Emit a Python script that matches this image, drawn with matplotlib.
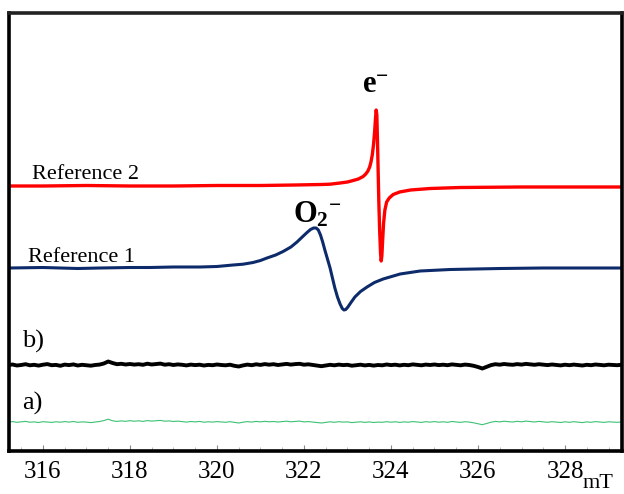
import numpy as np
import matplotlib
matplotlib.use("Agg")
import matplotlib.pyplot as plt
from matplotlib.ticker import MultipleLocator

plt.rcParams['font.family'] = ['Liberation Serif', 'DejaVu Serif']
plt.rcParams['mathtext.fontset'] = 'custom'
plt.rcParams['mathtext.rm'] = 'Liberation Serif'
plt.rcParams['mathtext.bf'] = 'Liberation Serif:bold'
plt.rcParams['mathtext.it'] = 'Liberation Serif:italic'

# ---- data (field in mT, signal in arbitrary units) ----
ref2_field = [315.22, 316.0, 317.0, 318.0, 319.0, 320.0, 321.0, 321.8, 322.4, 322.6,
              322.83, 323.0, 323.13, 323.25, 323.36, 323.42, 323.47, 323.51, 323.54,
              323.57, 323.60, 323.625, 323.645, 323.66, 323.675, 323.69, 323.705,
              323.72, 323.74, 323.76, 323.775, 323.79, 323.81, 323.83, 323.86, 323.90,
              323.96, 324.05, 324.2, 324.45, 324.9, 325.59, 326.97, 328.0, 329.31]
ref2_signal = [265, 265, 265.5, 265, 265, 265.5, 265.5, 266, 266.5, 266.8,
               268, 269, 270.5, 272, 274.5, 277, 280, 284, 289,
               296, 307, 320, 333, 341, 336, 310, 280,
               250, 220, 198, 190, 195, 212, 228, 241, 249,
               253, 256.5, 259, 261, 262.5, 263.5, 264, 264, 264]

ref1_field = [315.22, 316.0, 316.8, 317.31, 318.0, 318.46, 319.0, 319.61, 320.0, 320.37,
              320.6, 320.83, 321.0, 321.15, 321.35, 321.52, 321.7, 321.84, 321.96,
              322.07, 322.15, 322.22, 322.28, 322.33, 322.38, 322.43, 322.48, 322.54,
              322.60, 322.66, 322.71, 322.77, 322.83, 322.88, 322.92, 322.96, 323.01,
              323.08, 323.17, 323.3, 323.45, 323.62, 323.82, 324.21, 324.67, 325.36,
              326.51, 327.5, 328.5, 329.31]
ref1_signal = [183, 183.5, 182.5, 183, 183.5, 183.5, 184, 184, 184.5, 186,
               186.8, 188.5, 190.5, 193, 196, 199.5, 204, 209, 214,
               218.5, 221.5, 223, 223, 221, 216, 209, 201, 192,
               183, 172, 163, 154, 147, 142.5, 141, 141.5, 144,
               148.5, 154, 159.5, 164, 168.5, 172, 177, 180, 181.5,
               182.5, 183, 183, 183]

noise_field = np.linspace(315.2, 329.3, 142)
b_signal = [86, 86.5, 85.5, 86, 86.8, 85.7, 86.2, 85.4, 86.3, 86.9,
            85.8, 86.1, 85.2, 86.4, 85.9, 86.6, 85.5, 86.2, 85.8, 85.3,
            86.0, 86.4, 87.5, 89.5, 88.0, 86.8, 87.2, 86.5, 87.0, 86.4,
            86.8, 86.2, 87.3, 86.5, 86.9, 87.4, 86.3, 86.8, 86.0, 86.6,
            86.2, 85.6, 86.4, 85.9, 86.3, 85.5, 86.1, 85.8, 86.5, 86.0,
            85.7, 86.3, 85.2, 84.5, 85.6, 86.4, 85.8, 86.7, 86.1, 86.9,
            86.3, 86.8, 86.0, 86.5, 87.1, 86.4, 86.9, 87.2, 86.3, 86.7,
            86.1, 85.6, 84.8, 85.5, 86.2, 85.7, 86.4, 85.9, 86.2, 85.3,
            85.8, 86.3, 85.6, 86.1, 85.4, 86.0, 85.7, 86.5, 85.9, 86.3,
            85.6, 86.2, 85.8, 86.6, 86.1, 85.7, 86.4, 86.0, 86.5, 85.9,
            86.3, 85.8, 86.6, 86.1, 85.7, 86.4, 86.0, 85.2, 84.0, 82.5,
            84.2, 85.9, 86.8, 86.3, 87.0, 86.5, 86.2, 86.9, 86.4, 87.1,
            86.6, 86.2, 86.8, 86.3, 85.9, 86.5, 86.1, 85.6, 86.3, 85.8,
            86.4, 86.0, 85.5, 86.2, 85.8, 86.5, 86.1, 85.7, 86.3, 86.0,
            85.8, 86.2]
a_signal = [29.0, 29.4, 28.7, 29.2, 29.6, 28.8, 29.1, 28.5, 29.3, 29.0,
            28.6, 29.2, 28.8, 29.4, 28.9, 29.5, 28.7, 29.1, 28.9, 28.4,
            29.0, 29.5, 30.4, 31.8, 30.2, 29.6, 30.1, 29.7, 30.3, 29.8,
            30.2, 29.6, 30.4, 29.9, 30.3, 30.6, 29.8, 30.1, 29.5, 29.9,
            29.4, 28.9, 29.5, 29.1, 29.6, 28.8, 29.2, 28.9, 29.4, 29.0,
            28.7, 29.3, 28.6, 28.0, 28.8, 29.4, 28.9, 29.6, 29.1, 29.7,
            29.2, 29.5, 29.0, 29.4, 29.8, 29.2, 29.6, 29.9, 29.1, 29.4,
            28.9, 28.5, 28.0, 28.6, 29.2, 28.7, 29.3, 28.9, 29.1, 28.4,
            28.8, 29.2, 28.6, 29.1, 28.5, 28.9, 28.7, 29.3, 28.8, 29.2,
            28.6, 29.1, 28.8, 29.4, 29.0, 28.6, 29.3, 28.9, 29.4, 28.8,
            29.2, 28.7, 29.5, 29.0, 28.6, 29.3, 28.9, 28.2, 27.2, 26.3,
            27.5, 28.8, 29.6, 29.1, 29.8, 29.3, 29.0, 29.7, 29.2, 29.9,
            29.4, 29.0, 29.6, 29.1, 28.7, 29.3, 28.9, 28.5, 29.2, 28.7,
            29.3, 28.9, 28.4, 29.1, 28.7, 29.4, 29.0, 28.6, 29.2, 28.9,
            28.7, 29.1]

xticks = [316, 318, 320, 322, 324, 326, 328]

# ---- figure ----
fig = plt.figure(figsize=(6.24, 4.94), dpi=100)
ax = fig.add_axes([9/624, 43/494, 613/624, 438/494])

ax.plot(noise_field, a_signal, color='#3cc174', lw=0.8)
ax.plot(noise_field, b_signal, color='black', lw=2.8)
ax.plot(ref1_field, ref1_signal, color='#0d2b6b', lw=2.2, solid_joinstyle='round')
ax.plot(ref2_field, ref2_signal, color='#ff0000', lw=2.4, solid_joinstyle='round')

ax.set_xlim(315.22, 329.31)
ax.set_ylim(0, 438)
ax.set_xticks(xticks)
ax.set_xticklabels([str(t) for t in xticks])
ax.xaxis.set_minor_locator(MultipleLocator(0.5))
ax.tick_params(axis='x', which='major', direction='in', length=4, width=0.8,
               color='#888888', labelsize=18, pad=7, top=False)
ax.tick_params(axis='x', which='minor', direction='in', length=3, width=0.6,
               color='#aaaaaa', top=False)
ax.set_yticks([])
for s in ax.spines.values():
    s.set_linewidth(2.6)
    s.set_color('black')
ax.spines['top'].set_color('#222222')

ax.text(315.75, 272, 'Reference 2', fontsize=16, va='baseline', ha='left')
ax.text(315.66, 189, 'Reference 1', fontsize=16, va='baseline', ha='left')
ax.text(315.52, 110, 'b)', fontsize=19, va='center', ha='left')
ax.text(315.52, 48, 'a)', fontsize=19, va='center', ha='left')
ax.text(323.64, 358, r'$\mathbf{e}^{\mathbf{-}}$', fontsize=22, va='baseline', ha='center')
ax.text(322.3, 229, r'$\mathbf{O}_{\mathbf{2}}{}^{\mathbf{-}}$', fontsize=22, va='baseline', ha='center')
fig.text(598/624, 1 - 488/494, 'mT', fontsize=16, va='baseline', ha='center')

fig.savefig('out.png', dpi=100)
